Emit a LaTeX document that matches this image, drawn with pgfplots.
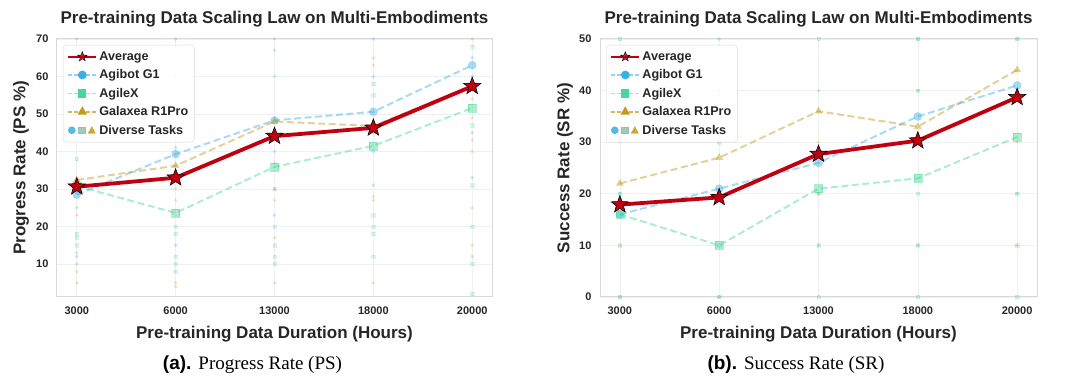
\documentclass[border=0pt]{standalone}
\usepackage{fontspec}
\setmainfont{Liberation Sans}
\newfontfamily\seriffont{Liberation Serif}
\usepackage{pgfplots}
\usepackage{pgfplotstable}
\pgfplotsset{compat=1.18}
\usetikzlibrary{plotmarks}

\definecolor{avgred}{HTML}{C00010}
\definecolor{agibot}{HTML}{3AAFE6}
\definecolor{agilex}{HTML}{46D89A}
\definecolor{galaxea}{HTML}{C49A1C}
\definecolor{txt}{HTML}{262626}

\pgfdeclareplotmark{fstar}{%
  \pgfpathmoveto{\pgfpointpolar{90}{\pgfplotmarksize}}%
  \pgfpathlineto{\pgfpointpolar{126}{0.42\pgfplotmarksize}}%
  \pgfpathlineto{\pgfpointpolar{162}{\pgfplotmarksize}}%
  \pgfpathlineto{\pgfpointpolar{198}{0.42\pgfplotmarksize}}%
  \pgfpathlineto{\pgfpointpolar{234}{\pgfplotmarksize}}%
  \pgfpathlineto{\pgfpointpolar{270}{0.42\pgfplotmarksize}}%
  \pgfpathlineto{\pgfpointpolar{306}{\pgfplotmarksize}}%
  \pgfpathlineto{\pgfpointpolar{342}{0.42\pgfplotmarksize}}%
  \pgfpathlineto{\pgfpointpolar{18}{\pgfplotmarksize}}%
  \pgfpathlineto{\pgfpointpolar{54}{0.42\pgfplotmarksize}}%
  \pgfpathclose
  \pgfusepathqfillstroke
}

\pgfplotstableread{
x avg agibot agilex galaxea
0 30.6 28.5 30.8 32.4
1 33.0 39.3 23.6 36.2
2 44.1 48.3 35.9 48.0
3 46.3 50.6 41.5 46.8
4 57.4 63.0 51.6 57.6
}\ps

\pgfplotstableread{
x avg agibot agilex galaxea
0 17.9 16 16 22
1 19.3 21 10 27
2 27.7 26 21 36
3 30.3 35 23 33
4 38.7 41 31 44
}\sr

\pgfplotsset{
  avgstyle/.style={color=avgred, solid, line width=3.8pt, mark=fstar, mark size=9pt,
     mark options={fill=avgred, draw=black, line width=0.6pt, solid}},
  robot/.style={color=#1, dash pattern=on 7pt off 3.5pt, line width=2pt, opacity=0.45,
     mark size=4pt, mark options={solid, fill=#1, draw=#1, line width=0.3pt}},
  tasks/.style={color=#1, only marks, mark size=1.7pt, mark options={fill=#1, draw=none}, opacity=0.22, forget plot},
  base/.style={
    scale only axis,
    xmin=-0.2, xmax=4.2,
    xtick={0,1,2,3,4}, xticklabels={3000,6000,13000,18000,20000},
    grid=major, major grid style={draw=black!6, line width=0.6pt},
    axis line style={draw=black!15, line width=1pt},
    major tick length=0pt,
    tick label style={font=\fontsize{11}{13}\selectfont\bfseries, text=txt},
    /pgf/number format/assume math mode=true,
    yticklabel style={xshift=-5pt},
    xticklabel style={yshift=-6pt},
    title style={font=\fontsize{17}{20}\selectfont\bfseries, text=txt, at={(0.5,1)}, anchor=base, yshift=9pt},
    label style={font=\fontsize{17}{20}\selectfont\bfseries, text=txt},
    xlabel style={at={(axis description cs:0.5,0)}, anchor=base, yshift=-42pt},
    legend style={at={(0,1)}, anchor=north west, xshift=6pt, yshift=-6pt,
      font=\fontsize{12.6}{14}\selectfont\bfseries, text=txt, draw=black!15,
      rounded corners=3pt, fill=white, fill opacity=0.85, text opacity=1,
      row sep=3.8pt, inner xsep=4pt, inner ysep=4.5pt},
    legend cell align=left,
    legend image code/.code={\draw[sharp corners, mark repeat=2,mark phase=2,##1] plot coordinates {(0pt,0pt) (14pt,0pt) (28pt,0pt)};},
    xlabel={Pre-training Data Duration (Hours)},
    title={Pre-training Data Scaling Law on Multi-Embodiments},
  },
}

\newcommand{\mylegend}{%
  \addlegendimage{color=avgred, solid, line width=2.2pt, mark=fstar, mark size=5pt, mark options={fill=avgred, draw=black, line width=0.4pt}}
  \addlegendentry{Average}
  \addlegendimage{color=agibot, dash pattern=on 4pt off 2pt, line width=1.5pt, draw opacity=0.55, mark=*, mark size=3.6pt, mark options={solid, fill=agibot, draw=agibot, opacity=1}}
  \addlegendentry{Agibot G1}
  \addlegendimage{color=agilex, dash pattern=on 4pt off 2pt, line width=1.5pt, draw opacity=0.55, mark=square*, mark size=3.4pt, mark options={solid, fill=agilex, draw=agilex, opacity=1}}
  \addlegendentry{AgileX}
  \addlegendimage{color=galaxea, dash pattern=on 4pt off 2pt, line width=1.5pt, draw opacity=0.7, mark=triangle*, mark size=4pt, mark options={solid, fill=galaxea, draw=galaxea, opacity=1}}
  \addlegendentry{Galaxea R1Pro}
  \addlegendimage{only marks, mark=none, legend image code/.code={%
    \fill[sharp corners, agibot] (3.5pt,0pt) circle (3.5pt);
    \fill[sharp corners, agilex!60!black!50!white] (10pt,-3.3pt) rectangle (16.6pt,3.3pt);
    \fill[sharp corners, galaxea] (20pt,-3pt) -- (27pt,-3pt) -- (23.5pt,3.5pt) -- cycle;}}
  \addlegendentry{Diverse Tasks}
}

\begin{document}
\begin{tikzpicture}[x=1pt,y=1pt]
\useasboundingbox (0pt,0pt) rectangle (1080pt,387pt);

% ---------- (a) Progress Rate ----------
\begin{axis}[base, at={(57pt,90pt)}, anchor=south west, width=435pt, height=258pt,
  ymin=1.2, ymax=70, ytick={10,20,30,40,50,60,70},
  ylabel={Progress Rate (PS \%)},
  ylabel style={at={(axis description cs:-0.083,0.5)}, anchor=center}]
\mylegend
\addplot[tasks=agibot, mark=*] coordinates {(0,25) (0,10) (0,12) (0,29) (1,70) (1,15) (1,41) (2,45) (2,40) (2,23) (2,60) (2,67) (3,70) (3,60) (3,31) (3,40) (3,45) (4,65) (4,45) (4,60) (4,33) (4,12)};
\addplot[tasks=agilex, mark=square*] coordinates {(0,38) (0,18) (0,17) (0,15) (1,20) (1,18) (1,10) (1,12) (1,8) (2,15) (2,10) (2,30) (2,20) (2,12) (3,58) (3,55) (3,23) (3,20) (3,18) (3,12) (4,68) (4,47) (4,31) (4,20) (4,10) (4,2)};
\addplot[tasks=galaxea, mark=triangle*] coordinates {(0,23) (0,13) (0,8) (0,5) (0,70) (1,30) (1,27) (1,5) (1,4) (2,70) (2,30) (2,27) (2,17) (2,5) (2,37) (3,65) (3,63) (3,28) (3,27) (3,5) (4,70) (4,54) (4,49) (4,43) (4,40) (4,25) (4,15)};
\addplot[robot=agibot, mark=*, forget plot] table[x=x, y=agibot] {\ps};
\addplot[robot=agilex, mark=square*, forget plot] table[x=x, y=agilex] {\ps};
\addplot[robot=galaxea, mark=triangle*, forget plot] table[x=x, y=galaxea] {\ps};
\addplot[avgstyle, forget plot] table[x=x, y=avg] {\ps};
\end{axis}

% ---------- (b) Success Rate ----------
\begin{axis}[base, at={(600pt,90pt)}, anchor=south west, width=437pt, height=258pt,
  ymin=0, ymax=50, ytick={0,10,20,30,40,50},
  ylabel={Success Rate (SR \%)},
  ylabel style={at={(axis description cs:-0.08,0.5)}, anchor=center}]
\mylegend
\addplot[tasks=agibot, mark=*] coordinates {(0,0) (0,20) (1,50) (1,0) (2,10) (2,40) (3,50) (3,10) (4,50) (4,20)};
\addplot[tasks=agilex, mark=square*] coordinates {(0,50) (0,20) (0,10) (0,0) (1,10) (1,0) (1,30) (2,50) (2,20) (2,10) (2,0) (3,50) (3,40) (3,20) (3,10) (3,0) (4,50) (4,20) (4,10) (4,0)};
\addplot[tasks=galaxea, mark=triangle*] coordinates {(0,30) (0,10) (1,30) (2,30) (2,20) (3,40) (4,30) (4,10)};
\addplot[robot=agibot, mark=*, forget plot] table[x=x, y=agibot] {\sr};
\addplot[robot=agilex, mark=square*, forget plot] table[x=x, y=agilex] {\sr};
\addplot[robot=galaxea, mark=triangle*, forget plot] table[x=x, y=galaxea] {\sr};
\addplot[avgstyle, forget plot] table[x=x, y=avg] {\sr};
\end{axis}

\node[anchor=base, font=\fontsize{19}{22}\selectfont] at (252.5pt,17pt) {\textbf{(a).} {\seriffont Progress Rate (PS)}};
\node[anchor=base, font=\fontsize{19}{22}\selectfont] at (796pt,17pt) {\textbf{(b).} {\seriffont Success Rate (SR)}};
\end{tikzpicture}
\end{document}
